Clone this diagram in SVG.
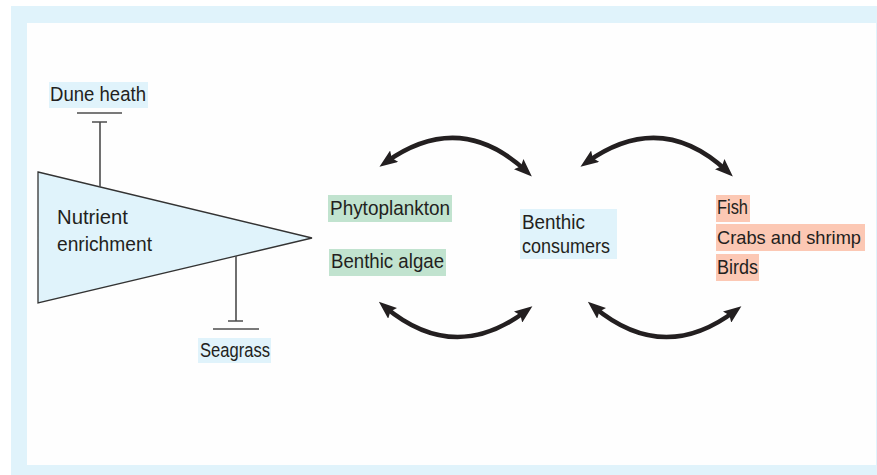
<svg xmlns="http://www.w3.org/2000/svg" width="877" height="475" viewBox="0 0 877 475">
<style>
.t{font-family:"Liberation Sans",Arial,sans-serif;font-size:20.5px;fill:#231f20}
.blue{fill:#e0f3fb}
.green{fill:#c1e3cf}
.salmon{fill:#fcc8b4}
.arc{fill:none;stroke:#231f20;stroke-width:4.5}
.inh{stroke:#4d4d4d;stroke-width:1.6;fill:none}
</style>
<defs>
<marker id="ah" viewBox="0 0 18 14" markerWidth="18" markerHeight="14" refX="10" refY="7" orient="auto-start-reverse" markerUnits="userSpaceOnUse">
<path d="M0,0 L18,7 L0,14 L3,7 z" fill="#231f20"/>
</marker>
</defs>
<g id="frame">
<rect x="11" y="6" width="866" height="469" fill="#e0f3fb"/>
<rect x="27" y="23" width="849" height="442" fill="#fefefe"/>
</g>
<g id="nutrient">
<polygon points="38,172 312,238 38,303" fill="#e0f3fb" stroke="#333" stroke-width="1.3"/>
<text class="t" x="57" y="224" textLength="71" lengthAdjust="spacingAndGlyphs">Nutrient</text>
<text class="t" x="57" y="251" textLength="95" lengthAdjust="spacingAndGlyphs">enrichment</text>
</g>
<g id="dune-heath">
<rect class="blue" x="49" y="82" width="99" height="26"/>
<text class="t" x="50" y="101" textLength="96" lengthAdjust="spacingAndGlyphs">Dune heath</text>
</g>
<g id="seagrass">
<rect class="blue" x="198" y="338" width="73" height="25"/>
<text class="t" x="200" y="357" textLength="70" lengthAdjust="spacingAndGlyphs">Seagrass</text>
</g>
<g id="phytoplankton">
<rect class="green" x="328" y="195" width="124" height="27"/>
<text class="t" x="330" y="215" textLength="120" lengthAdjust="spacingAndGlyphs">Phytoplankton</text>
</g>
<g id="benthic-algae">
<rect class="green" x="329" y="249" width="117" height="27"/>
<text class="t" x="331" y="268" textLength="113" lengthAdjust="spacingAndGlyphs">Benthic algae</text>
</g>
<g id="benthic-consumers">
<rect class="blue" x="520" y="209" width="97" height="50"/>
<text class="t" x="522" y="229" textLength="63" lengthAdjust="spacingAndGlyphs">Benthic</text>
<text class="t" x="522" y="253" textLength="88" lengthAdjust="spacingAndGlyphs">consumers</text>
</g>
<g id="predators">
<rect class="salmon" x="716" y="195" width="34" height="27"/>
<rect class="salmon" x="716" y="224" width="149" height="27"/>
<rect class="salmon" x="716" y="254" width="43" height="27"/>
<text class="t" x="717" y="214" textLength="31" lengthAdjust="spacingAndGlyphs">Fish</text>
<text class="t" x="717" y="244" style="font-size:19px" textLength="144" lengthAdjust="spacingAndGlyphs">Crabs and shrimp</text>
<text class="t" x="717" y="274" textLength="41" lengthAdjust="spacingAndGlyphs">Birds</text>
</g>
<g id="connectors">
<path class="inh" d="M77,113 H122 M92,122 H107 M100,122 V187"/>
<path class="inh" d="M213,329 H259 M228,321 H243 M236,321 V256"/>
<path class="arc" d="M386,162 Q460,109.5 526,171" marker-start="url(#ah)" marker-end="url(#ah)"/>
<path class="arc" d="M587,162 Q661,109.5 727,171" marker-start="url(#ah)" marker-end="url(#ah)"/>
<path class="arc" d="M385,307 Q454.5,365 526,311" marker-start="url(#ah)" marker-end="url(#ah)"/>
<path class="arc" d="M594,307 Q663.5,365 735,311" marker-start="url(#ah)" marker-end="url(#ah)"/>
</g>
</svg>
